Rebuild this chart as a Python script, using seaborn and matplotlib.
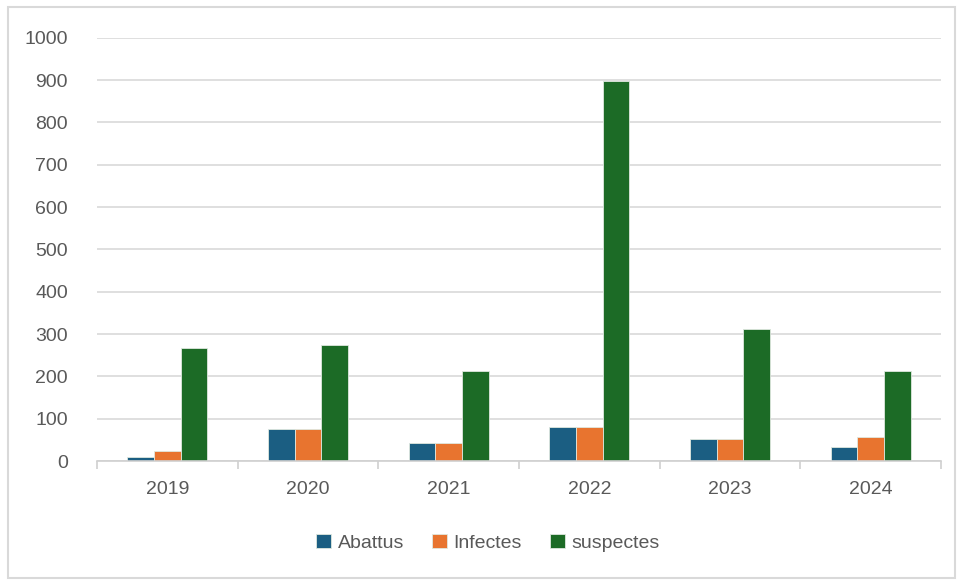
import matplotlib
matplotlib.use("Agg")
import matplotlib.pyplot as plt
from matplotlib.patches import Rectangle
import seaborn as sns
import pandas as pd

years = ["2019", "2020", "2021", "2022", "2023", "2024"]
abattus = [9, 75, 42, 80, 51, 32]
infectes = [23, 75, 42, 80, 51, 56]
suspectes = [268, 273, 212, 897, 311, 212]
series_names = ["Abattus", "Infectes", "suspectes"]
colors = ["#1B5E82", "#E8742F", "#1C6B26"]
y_ticks = [0, 100, 200, 300, 400, 500, 600, 700, 800, 900, 1000]

df = pd.DataFrame({
    "year": years * 3,
    "value": abattus + infectes + suspectes,
    "serie": [s for s in series_names for _ in years],
})

sns.set_theme(style="white")
plt.rcParams["font.family"] = ["Liberation Sans Narrow", "Liberation Sans", "DejaVu Sans"]

fig = plt.figure(figsize=(9.61, 5.82), dpi=100)
ax = fig.add_axes([97 / 961, 1 - 461 / 582, (941 - 97) / 961, (461 - 37.7) / 582])

sns.barplot(data=df, x="year", y="value", hue="serie", palette=colors,
            width=0.57, gap=0, ax=ax, saturation=1, legend=True,
            edgecolor="#dfe8df", linewidth=0.6)

ax.set_ylim(0, 1000)
ax.set_xlim(-0.5, len(years) - 0.5)
ax.set_yticks(y_ticks)
ax.yaxis.grid(True, color="#d9d9d9", linewidth=1.2)
ax.set_axisbelow(True)
for side in ["left", "right", "top"]:
    ax.spines[side].set_visible(False)
ax.spines["bottom"].set_color("#d0d0d0")
ax.spines["bottom"].set_linewidth(1.2)
ax.set_xlabel("")
ax.set_ylabel("")

# category separators below the baseline
ax.set_xticks([i - 0.5 for i in range(len(years) + 1)], minor=True)
ax.tick_params(axis="x", which="minor", length=6, color="#d0d0d0", width=1.2, bottom=True)
ax.tick_params(axis="x", which="major", length=0, pad=14.5, labelsize=14, labelcolor="#595959")
ax.tick_params(axis="y", length=0, pad=21, labelsize=14, labelcolor="#595959")

handles, labels = ax.get_legend_handles_labels()
ax.get_legend().remove()
fig.legend(handles, labels, loc="center", bbox_to_anchor=(488 / 961, 1 - 543 / 582),
           ncol=3, frameon=False, fontsize=14, handlelength=0.75, handleheight=0.75,
           handletextpad=0.35, columnspacing=1.45, labelcolor="#595959")

fig.patches.append(Rectangle((8 / 961, 4 / 582), (955 - 8) / 961, (575 - 4) / 582,
                             transform=fig.transFigure, fill=False,
                             edgecolor="#d9d9d9", linewidth=1.5))

fig.savefig("out.png", dpi=100)
